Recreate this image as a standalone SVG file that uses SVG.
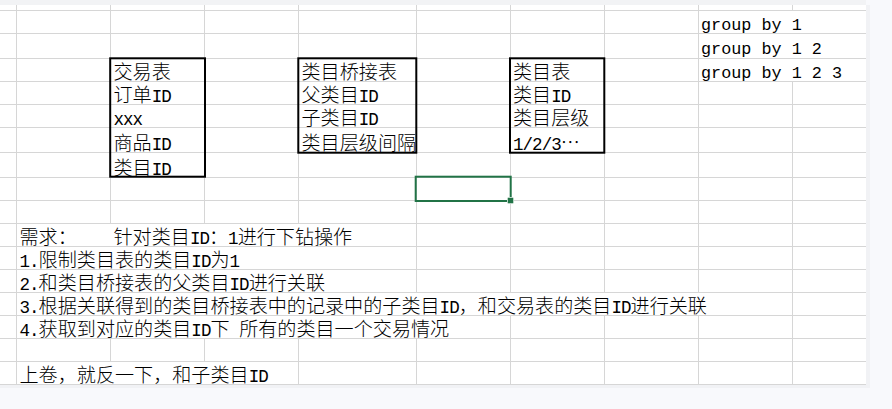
<svg xmlns="http://www.w3.org/2000/svg" width="892" height="409" viewBox="0 0 892 409">
<style>
.c{font-family:"Noto Sans CJK SC","Noto Sans",sans-serif;font-size:19.1px;font-weight:300;fill:#000}
.m{font-family:"Liberation Mono",monospace;font-size:17.5px;font-weight:400;letter-spacing:-0.95px}
.g{font-family:"Liberation Mono",monospace;font-size:16.8px;fill:#000}
.gl{fill:none;stroke:#d6d6d6;stroke-width:1}
.box{fill:none;stroke:#000;stroke-width:2}
</style>
<g id="sheet">
<rect x="0" y="0" width="892" height="409" fill="#f8f9fc"/>
<rect x="866" y="5" width="4" height="382" fill="#f1f2f5"/>
<rect x="0" y="385" width="870" height="3" fill="#f1f2f5"/>
<rect x="0" y="0" width="866" height="5" fill="#f2f3f5"/>
<rect x="0" y="5" width="866" height="380" fill="#fff"/>
</g>
<g id="grid">
<path class="gl" d="M0 10.5H866M0 33.5H866M0 58.5H866M0 81.5H866M0 104.5H866M0 127.5H866M0 152.5H866M0 177.5H866M0 200.5H866M0 223.5H866M0 246.5H866M0 269.5H866M0 292.5H866M0 315.5H866M0 338.5H866M0 361.5H866M0 384.5H866
M16.5 5V385
M110.5 5V223.5M110.5 338V361.5
M204.5 5V223.5M204.5 338V361.5
M298.5 5V223.5M298.5 338V385
M416.5 5V292.5M416.5 338V385
M510.5 5V292.5M510.5 315V385
M604.5 5V292.5M604.5 315V385
M698.5 5V292.5M698.5 315V385
M792.5 5V10.5M792.5 81V385"/>
</g>
<g id="connectors"></g>
<g id="tbl-trade">
<rect class="box" x="110.2" y="58.3" width="94.8" height="118.4"/>
<text class="c" x="113.5" y="78.5">交易表</text>
<text class="c" x="113.5" y="101.5">订单<tspan class="m">ID</tspan></text>
<text class="c" x="113.5" y="124.5"><tspan class="m">xxx</tspan></text>
<text class="c" x="113.5" y="149.5">商品<tspan class="m">ID</tspan></text>
<text class="c" x="113.5" y="174.5">类目<tspan class="m">ID</tspan></text>
</g>
<g id="tbl-bridge">
<rect class="box" x="298.3" y="58.3" width="118" height="94.4"/>
<text class="c" x="301.5" y="78.5">类目桥接表</text>
<text class="c" x="301.5" y="101.5">父类目<tspan class="m">ID</tspan></text>
<text class="c" x="301.5" y="124.5">子类目<tspan class="m">ID</tspan></text>
<text class="c" x="301.5" y="149.5">类目层级间隔</text>
</g>
<g id="tbl-category">
<rect class="box" x="510" y="58.3" width="94.3" height="94.4"/>
<text class="c" x="513" y="78.5">类目表</text>
<text class="c" x="513" y="101.5">类目<tspan class="m">ID</tspan></text>
<text class="c" x="513" y="124.5">类目层级</text>
<text class="c" x="513" y="149.5"><tspan class="m">1/2/3</tspan>…</text>
</g>
<g id="selection">
<rect x="415.7" y="176.7" width="95" height="24.3" fill="none" stroke="#217346" stroke-width="2"/>
<rect x="507" y="197" width="7" height="7" fill="#fff"/>
<rect x="507.7" y="197.7" width="5.6" height="5.6" fill="#217346"/>
</g>
<g id="notes-groupby">
<text class="g" x="701" y="29.5">group by 1</text>
<text class="g" x="701" y="53.5">group by 1 2</text>
<text class="g" x="701" y="77.5">group by 1 2 3</text>
</g>
<g id="notes-req">
<text class="c" x="19.5" y="243.5">需求：</text>
<text class="c" x="113.5" y="243.5">针对类目<tspan class="m">ID</tspan>：<tspan class="m">1</tspan>进行下钻操作</text>
<text class="c" x="19.5" y="266.5"><tspan class="m">1.</tspan>限制类目表的类目<tspan class="m">ID</tspan>为<tspan class="m">1</tspan></text>
<text class="c" x="19.5" y="289.5"><tspan class="m">2.</tspan>和类目桥接表的父类目<tspan class="m">ID</tspan>进行关联</text>
<text class="c" x="19.5" y="312.5"><tspan class="m">3.</tspan>根据关联得到的类目桥接表中的记录中的子类目<tspan class="m">ID</tspan>，和交易表的类目<tspan class="m">ID</tspan>进行关联</text>
<text class="c" x="19.5" y="335.5"><tspan class="m">4.</tspan>获取到对应的类目<tspan class="m">ID</tspan>下<tspan class="m" style="white-space:pre"> </tspan>所有的类目一个交易情况</text>
<text class="c" x="19.5" y="381.5">上卷，就反一下，和子类目<tspan class="m">ID</tspan></text>
</g>
</svg>
